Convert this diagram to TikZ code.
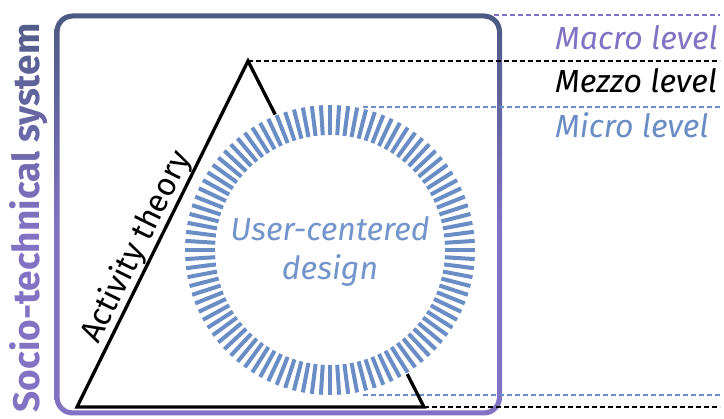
\documentclass[tikz,border=0pt]{standalone}
\usepackage{fontspec}
\setmainfont{Fira Sans}
\usepackage{tikz}
\usetikzlibrary{positioning}
\usetikzlibrary{calc}
\usetikzlibrary{fadings}

\definecolor{slate}{RGB}{75,90,130}
\definecolor{lilac}{RGB}{130,114,196}
\definecolor{ringblue}{RGB}{107,141,198}
\definecolor{textblue}{RGB}{116,148,204}

\pgfdeclareverticalshading{frameshade}{100bp}{color(0bp)=(lilac); color(25bp)=(lilac); color(48bp)=(lilac); color(75bp)=(slate); color(100bp)=(slate)}

\begin{tikzfadingfrompicture}[name=sociofade]
    \path (-30pt,-220pt) rectangle (30pt,220pt);
    \node[rotate=90, text=transparent!0, inner sep=0pt,
          font=\bfseries\fontsize{37}{44}\selectfont] at (-1pt,-4pt) {Socio-technical system};
\end{tikzfadingfrompicture}

\begin{document}
\begin{tikzpicture}[
        x = 1pt, y = -1pt,
        tri/.style = {line width = 3.3pt, line join = miter},
        stripe/.style = {ringblue, line width = 4pt},
        level/.style = {dash pattern = on 5pt off 3pt, line width = 1.4pt},
        levtext/.style = {
            anchor = base west,
            inner sep = 0pt,
            font = \itshape\fontsize{32}{38}\selectfont
        }
        ]
        \useasboundingbox (0,0) rectangle (724,419);
%
        \shade[shading=frameshade, even odd rule]
            [rounded corners=18pt] (54.5,13.5) rectangle (502,415.5)
            [rounded corners=13pt] (59.5,18.5) rectangle (497,410.5);
        \shade[shading=frameshade, path fading=sociofade, fit fading=false,
               fading transform={shift={(30,214)}}] (0,-6) rectangle (60,434);
%
        \coordinate (apex) at (248,61);
        \coordinate (bl) at (77,407);
        \coordinate (br) at (424,407);
        \coordinate (macro) at (494,15);
        \coordinate (microtop) at (363,107);
        \coordinate (microbot) at (363,395);
        \coordinate (edge) at (720,0);
%
        \draw[level, lilac] (macro) -- (macro -| edge);
        \draw[level] (apex) -- (apex -| edge);
        \draw[level, ringblue] (microtop) -- (microtop -| edge);
        \draw[level, ringblue] (microbot) -- (microbot -| edge);
        \draw[level] (br) -- (br -| edge);
%
        \draw[tri] (bl) -- (apex) -- (br) -- cycle;
        \path (bl) -- node[sloped, above, pos=0.44, inner sep=1pt,
                font=\fontsize{32}{38}\selectfont] (act) {Activity theory} (apex);
%
        \node[circle, fill=white, minimum size=292pt, inner sep=0pt] (ring) at (330,250) {};
        \foreach \i in {0,...,99}
            \draw[stripe] ($(ring.center)+({\i*3.6}:115)$) -- ($(ring.center)+({\i*3.6}:145)$);
        \node[textblue, align=center, font=\itshape\fontsize{32}{39}\selectfont] (ucd) at (330,251) {User-centered\\design};
%
        \node[levtext, lilac] (macrotext) at (555,50) {Macro level};
        \node[levtext] (mezzotext) at (555,93) {Mezzo level};
        \node[levtext, ringblue] (microtext) at (555,138) {Micro level};
\end{tikzpicture}
\end{document}
